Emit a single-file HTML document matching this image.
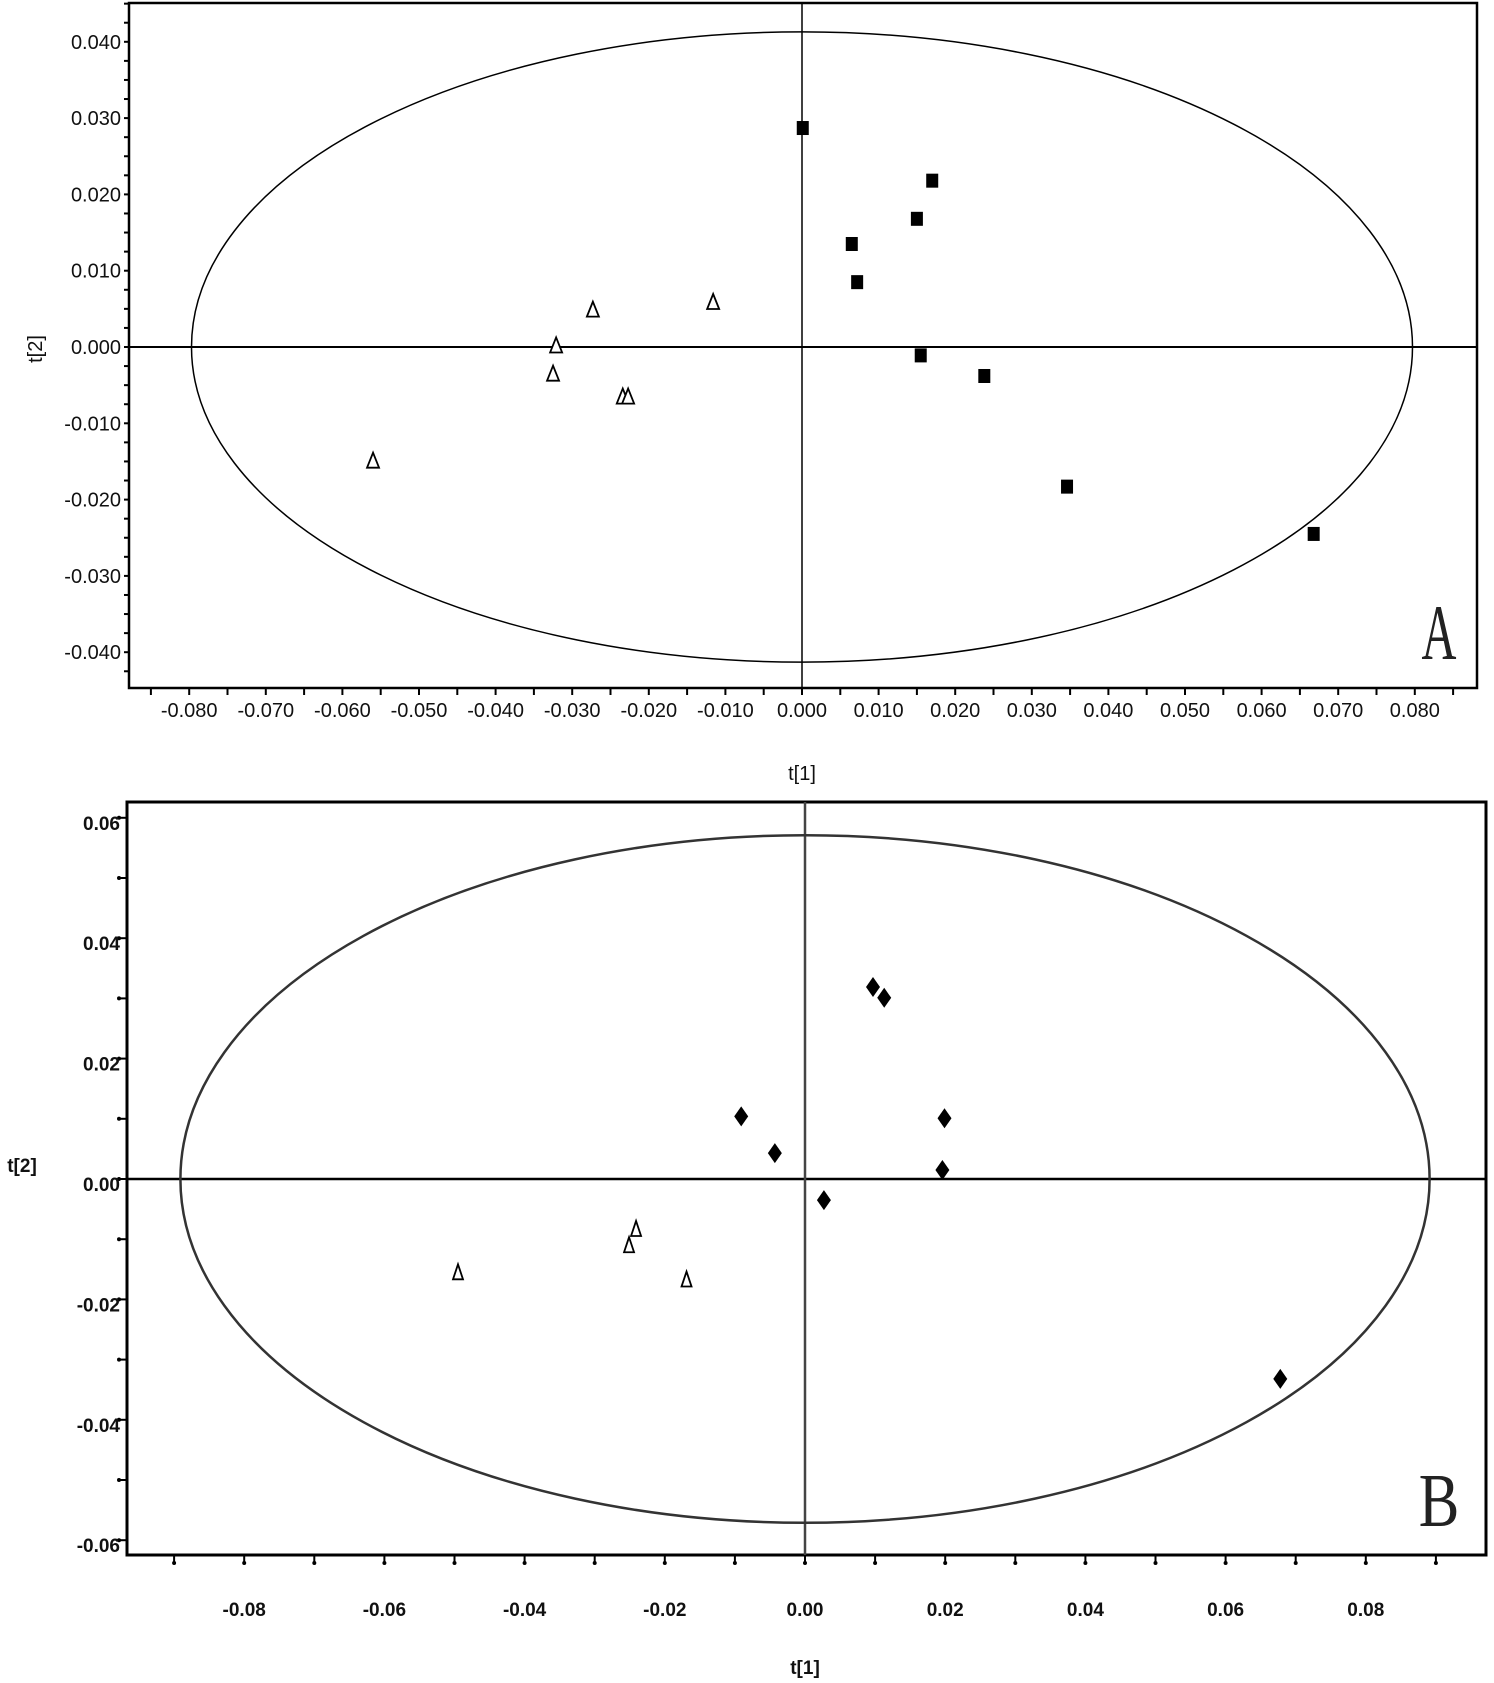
<!DOCTYPE html>
<html><head><meta charset="utf-8">
<style>
html,body{margin:0;padding:0;background:#fff;}
svg{display:block;}
.ta{font-family:"Liberation Sans Narrow","Liberation Sans",sans-serif;font-size:20px;fill:#111;}
.tb{font-family:"Liberation Sans",sans-serif;font-size:19px;font-weight:bold;fill:#111;}
</style></head>
<body>
<svg id="chart" width="1494" height="1683" viewBox="0 0 1494 1683" xmlns="http://www.w3.org/2000/svg">
<g id="pa"></g>
<g id="pb"></g>
</svg>
<script>
// Panel A data
const aTicksX = [-0.08,-0.07,-0.06,-0.05,-0.04,-0.03,-0.02,-0.01,0,0.01,0.02,0.03,0.04,0.05,0.06,0.07,0.08];
const aTicksY = [0.04,0.03,0.02,0.01,0,-0.01,-0.02,-0.03,-0.04];
const aSquaresX = [0.0001,0.017,0.015,0.0065,0.0072,0.0155,0.0238,0.0346,0.0668];
const aSquaresY = [0.0287,0.0218,0.0168,0.0135,0.0085,-0.0011,-0.0038,-0.0183,-0.0245];
const aTriX = [-0.0116,-0.0273,-0.0321,-0.0325,-0.0234,-0.0227,-0.056];
const aTriY = [0.0059,0.0049,0.0002,-0.0035,-0.0065,-0.0065,-0.0149];
const aEllipse = [0.0797,0.0413];
// Panel B data
const bTicksX = [-0.08,-0.06,-0.04,-0.02,0,0.02,0.04,0.06,0.08];
const bTicksY = [0.06,0.04,0.02,0,-0.02,-0.04,-0.06];
const bDiaX = [0.0097,0.0113,-0.0091,-0.0043,0.0199,0.0196,0.0027,0.0678];
const bDiaY = [0.0319,0.0301,0.0104,0.0043,0.0101,0.0015,-0.0035,-0.0332];
const bTriX = [-0.0241,-0.0251,-0.0495,-0.0169];
const bTriY = [-0.0083,-0.011,-0.0155,-0.0167];
const bEllipse = [0.0891,0.0571];

const NS="http://www.w3.org/2000/svg";
function mk(parent,tag,attrs,text){const e=document.createElementNS(NS,tag);for(const k in attrs)e.setAttribute(k,attrs[k]);if(text!==undefined)e.textContent=text;parent.appendChild(e);return e;}

// ---- Panel A ----
(function(){
const g=document.getElementById('pa');
const xs=v=>802+v*7660, ys=v=>347-v*7630;
const L=129,R=1477,T=3,B=688;
let r=mk(g,'rect',{x:L,y:T,width:R-L,height:B-T,fill:'none',stroke:'#000','stroke-width':2.5});

for(let v=-0.085;v<=0.0851;v+=0.005){const x=xs(v);if(x<L||x>R)continue;const t=mk(g,'line',{x1:x,y1:B,x2:x,y2:B+7,stroke:'#000','stroke-width':2});}
for(let v=-0.045;v<=0.0451;v+=0.0025){const y=ys(v);if(y<T||y>B)continue;const t=mk(g,'line',{x1:L-5,y1:y,x2:L,y2:y,stroke:'#000','stroke-width':2});}
aTicksX.forEach(v=>{const t=mk(g,'text',{x:xs(v),y:717,'text-anchor':'middle',class:'ta'},v.toFixed(3));});
aTicksY.forEach(v=>{const t=mk(g,'text',{x:121,y:ys(v)+7,'text-anchor':'end',class:'ta'},v.toFixed(3));});
let a=mk(g,'line',{x1:L,y1:ys(0),x2:R,y2:ys(0),stroke:'#000','stroke-width':2});
a=mk(g,'line',{x1:xs(0),y1:T,x2:xs(0),y2:B,stroke:'#000','stroke-width':1.5});
let e=mk(g,'ellipse',{cx:xs(0),cy:ys(0),rx:xs(aEllipse[0])-xs(0),ry:ys(0)-ys(aEllipse[1]),fill:'none',stroke:'#000','stroke-width':1.5});

aSquaresX.forEach((v,i)=>{const s=mk(g,'rect',{x:xs(v)-6,y:ys(aSquaresY[i])-7,width:12,height:14,fill:'#000'});});
aTriX.forEach((v,i)=>{const x=xs(v),y=ys(aTriY[i]);const p=mk(g,'polygon',{points:`${x},${y-8} ${x-6},${y+7} ${x+6},${y+7}`,fill:'#fff',stroke:'#000','stroke-width':1.8});});
let t=mk(g,'text',{x:802,y:780,'text-anchor':'middle',class:'ta'},'t[1]');
t=mk(g,'text',{x:0,y:0,'text-anchor':'middle',class:'ta',transform:'translate(42,349) rotate(-90)'},'t[2]');
t=mk(g,'text',{x:0,y:0,'text-anchor':'middle','font-family':'"Liberation Serif",serif','font-size':'78px',fill:'#222',transform:'translate(1439,659) scale(0.62,1)'},'A');
})();

// ---- Panel B ----
(function(){
const g=document.getElementById('pb');
const xs=v=>805+v*7010, ys=v=>1179-v*6020;
const L=127,R=1486,T=802,B=1555;
let r=mk(g,'rect',{x:L,y:T,width:R-L,height:B-T,fill:'none',stroke:'#000','stroke-width':3});

for(let v=-0.09;v<=0.0901;v+=0.01){const x=xs(v);const t=mk(g,'line',{x1:x,y1:B,x2:x,y2:B+8,stroke:'#000','stroke-width':2});
const d=mk(g,'circle',{cx:x,cy:B+8,r:2,fill:'#000'});}
for(let v=-0.06;v<=0.0601;v+=0.01){const y=ys(v);const t=mk(g,'line',{x1:L-8,y1:y,x2:L,y2:y,stroke:'#000','stroke-width':2});
const d=mk(g,'circle',{cx:L-8,cy:y,r:2,fill:'#000'});}
bTicksX.forEach(v=>{const t=mk(g,'text',{x:xs(v),y:1616,'text-anchor':'middle',class:'tb'},v.toFixed(2));});
bTicksY.forEach(v=>{const t=mk(g,'text',{x:120,y:ys(v)+12,'text-anchor':'end',class:'tb'},v.toFixed(2));});
let a=mk(g,'line',{x1:L,y1:ys(0),x2:R,y2:ys(0),stroke:'#000','stroke-width':2.5});
a=mk(g,'line',{x1:xs(0),y1:T,x2:xs(0),y2:B,stroke:'#444','stroke-width':2.5});
let e=mk(g,'ellipse',{cx:xs(0),cy:ys(0),rx:xs(bEllipse[0])-xs(0),ry:ys(0)-ys(bEllipse[1]),fill:'none',stroke:'#333','stroke-width':2.5});

bDiaX.forEach((v,i)=>{const x=xs(v),y=ys(bDiaY[i]);const p=mk(g,'polygon',{points:`${x},${y-10} ${x+7},${y} ${x},${y+10} ${x-7},${y}`,fill:'#000'});});
bTriX.forEach((v,i)=>{const x=xs(v),y=ys(bTriY[i]);const p=mk(g,'polygon',{points:`${x},${y-8} ${x-5},${y+7} ${x+5},${y+7}`,fill:'#fff',stroke:'#000','stroke-width':1.8});});
let t=mk(g,'text',{x:805,y:1674,'text-anchor':'middle',class:'tb'},'t[1]');
t=mk(g,'text',{x:22,y:1172,'text-anchor':'middle',class:'tb'},'t[2]');
t=mk(g,'text',{x:0,y:0,'text-anchor':'middle','font-family':'"Liberation Serif",serif','font-size':'76px',fill:'#222',transform:'translate(1439,1526) scale(0.8,1)'},'B');
})();
</script>
</body></html>
